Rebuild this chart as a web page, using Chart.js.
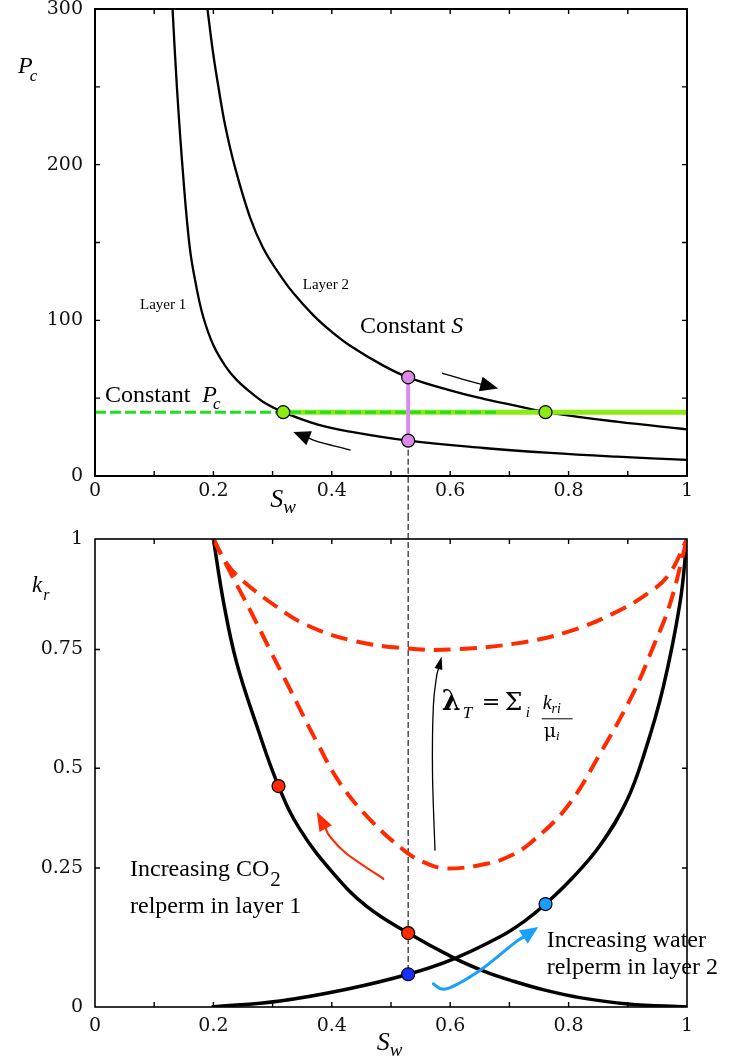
<!DOCTYPE html>
<html>
<head>
<meta charset="utf-8">
<title>Capillary pressure and relative permeability</title>
<script src="https://cdn.jsdelivr.net/npm/chart.js@4.4.1/dist/chart.umd.min.js"></script>
<style>
  html, body { margin: 0; padding: 0; background: #fff; }
  #page { position: relative; width: 736px; height: 1063px; overflow: hidden; }
  canvas { position: absolute; left: 0; }
  #pcChart { top: 0; }
  #krChart { top: 515px; }
</style>
</head>
<body>
<div id="page">
  <canvas id="pcChart" width="736" height="515"></canvas>
  <canvas id="krChart" width="736" height="548"></canvas>
</div>
<script>
// ---------- water saturation axis (shared) ----------
const swTickValues = [0, 0.2, 0.4, 0.6, 0.8, 1];
const swTickLabels = ['0', '0.2', '0.4', '0.6', '0.8', '1'];
const swMinorTicks = [0.1, 0.2, 0.3, 0.4, 0.5, 0.6, 0.7, 0.8, 0.9];

// ---------- capillary pressure panel ----------
const pcTickValues = [0, 100, 200, 300];
const pcTickLabels = ['0', '100', '200', '300'];
const pcMinorTicks = [50, 100, 150, 200, 250];

const layer1Sw = [0.131, 0.138, 0.1475, 0.160, 0.172, 0.183, 0.200, 0.222, 0.240, 0.262, 0.290, 0.318, 0.375, 0.431, 0.529, 0.656, 0.769, 0.881, 1.0];
const layer1Pc = [300, 252, 200, 147, 120, 102, 84, 69.6, 61.4, 54, 46.2, 41, 33.2, 28.5, 22.7, 18, 14.8, 12.4, 10.3];

const layer2Sw = [0.19, 0.199, 0.208, 0.22, 0.236, 0.262, 0.284, 0.31, 0.335, 0.369, 0.4, 0.431, 0.487, 0.529, 0.6, 0.656, 0.712, 0.761, 0.881, 1.0];
const layer2Pc = [300, 273, 251, 225, 199, 166, 146.5, 130.5, 117.5, 103.2, 92.6, 83.7, 70.9, 63.4, 55.0, 49.6, 45.0, 41.1, 34.9, 30];

const constPc = 41;                 // constant capillary pressure level
const constPcSw = [0.318, 0.761];   // where that level meets layer 1 and layer 2
const constPcDashEnd = 0.68;        // end of the dashed guide
const constSw = 0.529;              // constant saturation cut
const constSwPc = [22.7, 63.4];     // layer 1 and layer 2 pressure at that saturation

// ---------- relative permeability panel ----------
const krTickValues = [0, 0.297, 0.51, 0.764, 1];
const krTickLabels = ['0', '0.25', '0.5', '0.75', '1'];

const co2Sw = [0.2, 0.217, 0.239, 0.273, 0.31, 0.346, 0.403, 0.459, 0.529, 0.606, 0.66, 0.707, 0.76, 0.819, 0.9, 1.0];
const co2Kr = [1.0, 0.866, 0.737, 0.602, 0.472, 0.38, 0.285, 0.215, 0.158, 0.105, 0.075, 0.055, 0.036, 0.02, 0.0066, 0.0];

const waterSw = [0.197, 0.3125, 0.425, 0.529, 0.606, 0.684, 0.725, 0.761, 0.806, 0.853, 0.898, 0.93, 0.96, 0.988, 1.0];
const waterKr = [0.0, 0.013, 0.038, 0.07, 0.103, 0.15, 0.183, 0.22, 0.275, 0.345, 0.44, 0.55, 0.684, 0.862, 1.0];

const mobHighSw = [0.2, 0.22, 0.245, 0.307, 0.358, 0.431, 0.527, 0.605, 0.712, 0.797, 0.876, 0.9375, 0.97, 1.0];
const mobHighKr = [1.0, 0.952, 0.916, 0.855, 0.816, 0.784, 0.766, 0.764, 0.777, 0.801, 0.841, 0.887, 0.925, 1.0];

const mobLowSw = [0.2, 0.23, 0.262, 0.296, 0.329, 0.374, 0.414, 0.465, 0.527, 0.56, 0.594, 0.662, 0.7, 0.735, 0.797, 0.853, 0.909, 0.943, 0.971, 1.0];
const mobLowKr = [1.0, 0.925, 0.848, 0.762, 0.68, 0.568, 0.478, 0.40, 0.33, 0.307, 0.296, 0.306, 0.322, 0.35, 0.427, 0.541, 0.67, 0.77, 0.86, 1.0];

const co2DotSw = [0.31, 0.529];
const co2DotKr = [0.472, 0.158];
const waterDotSw = [0.529];
const waterDotKr = [0.07];
const water2DotSw = [0.761];
const water2DotKr = [0.22];

// ---------- helpers ----------
const SERIF = '"Liberation Serif", "Times New Roman", serif';
const NUM = '"DejaVu Serif", serif';
const RED = '#ff2a00';
const pts = (xs, ys) => xs.map((x, i) => ({ x, y: ys[i] }));

function curve(data, color, width, extra) {
  return Object.assign({
    data, borderColor: color, borderWidth: width, pointRadius: 0,
    fill: false, tension: 0.4
  }, extra || {});
}
function segment(data, color, width, extra) {
  return Object.assign({
    data, borderColor: color, borderWidth: width, pointRadius: 0, fill: false, tension: 0
  }, extra || {});
}
function dots(data, fill, order) {
  return {
    data, showLine: false, pointRadius: 6.5, pointHoverRadius: 6.5,
    pointBackgroundColor: fill, pointBorderColor: '#000', pointBorderWidth: 1.2, order
  };
}

function drawRuns(ctx, x, y, runs) {
  let cx = x;
  ctx.textBaseline = 'alphabetic';
  ctx.textAlign = 'left';
  for (const r of runs) {
    ctx.font = r[1];
    cx += (r[3] || 0);
    ctx.fillText(r[0], cx, y + (r[2] || 0));
    cx += ctx.measureText(r[0]).width;
  }
}

function smoothPath(ctx, p) {
  ctx.beginPath();
  ctx.moveTo(p[0][0], p[0][1]);
  for (let i = 0; i < p.length - 1; i++) {
    const p0 = p[i - 1] || p[i], p1 = p[i], p2 = p[i + 1], p3 = p[i + 2] || p2;
    ctx.bezierCurveTo(
      p1[0] + (p2[0] - p0[0]) / 6, p1[1] + (p2[1] - p0[1]) / 6,
      p2[0] - (p3[0] - p1[0]) / 6, p2[1] - (p3[1] - p1[1]) / 6,
      p2[0], p2[1]);
  }
  ctx.stroke();
}

function arrow(ctx, chart, a) {
  const xs = chart.scales.x, ys = chart.scales.y;
  const p = a.path.map(q => [xs.getPixelForValue(q[0]), ys.getPixelForValue(q[1])]);
  const tip = p[p.length - 1], prev = p[p.length - 2];
  const ang = Math.atan2(tip[1] - prev[1], tip[0] - prev[0]);
  const bx = tip[0] - a.head * Math.cos(ang), by = tip[1] - a.head * Math.sin(ang);
  const line = p.slice(0, -1).concat([[bx, by]]);
  ctx.save();
  ctx.strokeStyle = a.color; ctx.fillStyle = a.color;
  ctx.lineWidth = a.width; ctx.lineCap = 'round';
  smoothPath(ctx, line);
  ctx.beginPath();
  ctx.moveTo(tip[0], tip[1]);
  ctx.lineTo(bx + a.half * Math.sin(ang), by - a.half * Math.cos(ang));
  ctx.lineTo(bx - a.half * Math.sin(ang), by + a.half * Math.cos(ang));
  ctx.closePath();
  ctx.fill();
  ctx.restore();
}

// frame and inward tick marks on all four sides
function framePlugin(lineW, yMinor) {
  return {
    id: 'frame',
    afterDraw(chart) {
      const { ctx, chartArea: a, scales: { x, y } } = chart;
      ctx.save();
      ctx.strokeStyle = '#000';
      ctx.lineWidth = 1.4;
      ctx.beginPath();
      for (const v of swMinorTicks) {
        const px = x.getPixelForValue(v);
        ctx.moveTo(px, a.bottom); ctx.lineTo(px, a.bottom - 5);
        ctx.moveTo(px, a.top); ctx.lineTo(px, a.top + 5);
      }
      for (const v of yMinor) {
        const py = y.getPixelForValue(v);
        ctx.moveTo(a.left, py); ctx.lineTo(a.left + 5, py);
        ctx.moveTo(a.right, py); ctx.lineTo(a.right - 5, py);
      }
      ctx.stroke();
      ctx.lineWidth = lineW;
      ctx.strokeRect(a.left, a.top, a.right - a.left, a.bottom - a.top);
      ctx.restore();
    }
  };
}

function axisOptions(yMin, yMax, yVals, yLabels, xHeight, xPad) {
  const tickFont = { family: NUM, size: 19 };
  return {
    x: {
      type: 'linear', min: 0, max: 1,
      grid: { display: false, drawTicks: false }, border: { display: false },
      afterBuildTicks: s => { s.ticks = swTickValues.map(v => ({ value: v })); },
      afterFit: s => { s.height = xHeight; s.paddingLeft = 0; s.paddingRight = 0; },
      ticks: { callback: (v, i) => swTickLabels[i], font: tickFont, color: '#111', padding: xPad, maxRotation: 0, autoSkip: false }
    },
    y: {
      type: 'linear', min: yMin, max: yMax,
      grid: { display: false, drawTicks: false }, border: { display: false },
      afterBuildTicks: s => { s.ticks = yVals.map(v => ({ value: v })); },
      afterFit: s => { s.width = 95; s.paddingTop = 0; s.paddingBottom = 0; },
      ticks: { callback: (v, i) => yLabels[i], font: tickFont, color: '#111', padding: 12, autoSkip: false }
    }
  };
}

const common = {
  responsive: false, animation: false, devicePixelRatio: 1,
  events: [],
  plugins: { legend: { display: false }, tooltip: { enabled: false } }
};

// ---------- capillary pressure chart ----------
const pcArrows = [
  { path: [[0.587, 66.0], [0.625, 61.7], [0.681, 56.2]], color: '#000', width: 1.3, head: 18, half: 7.5 },
  { path: [[0.431, 16.7], [0.375, 22.3], [0.335, 28.3]], color: '#000', width: 1.3, head: 17, half: 7.5 }
];

const pcAnnotations = {
  id: 'pcNotes',
  beforeDatasetsDraw(chart) {
    const { ctx, scales: { x, y } } = chart;
    const px = x.getPixelForValue(constSw);
    ctx.save();
    ctx.strokeStyle = '#222'; ctx.lineWidth = 1.2; ctx.setLineDash([6, 3]);
    ctx.beginPath();
    ctx.moveTo(px, y.getPixelForValue(constSwPc[0]));
    ctx.lineTo(px, chart.height);
    ctx.stroke();
    ctx.restore();
  },
  afterDraw(chart) {
    const { ctx, chartArea: a, scales: { x, y } } = chart;
    pcArrows.forEach(ar => arrow(ctx, chart, ar));
    ctx.save();
    ctx.fillStyle = '#000';
    const at = (sx, py) => [x.getPixelForValue(sx), y.getPixelForValue(py)];
    let p = at(0.076, 107.3);
    drawRuns(ctx, p[0], p[1], [['Layer 1', '15px ' + SERIF]]);
    p = at(0.351, 120.1);
    drawRuns(ctx, p[0], p[1], [['Layer 2', '15px ' + SERIF]]);
    p = at(0.4476, 91.9);
    drawRuns(ctx, p[0], p[1], [['Constant ', '24px ' + SERIF], ['S', 'italic 24px ' + SERIF]]);
    p = at(0.0169, 47.7);
    drawRuns(ctx, p[0], p[1], [['Constant  ', '24px ' + SERIF], ['P', 'italic 24px ' + SERIF], ['c', 'italic 17px ' + SERIF, 7, -4]]);
    // axis titles
    drawRuns(ctx, a.left - 77, a.top + 64, [['P', 'italic 24px ' + SERIF], ['c', 'italic 17px ' + SERIF, 8, -3]]);
    drawRuns(ctx, x.getPixelForValue(0.296), a.bottom + 31, [['S', 'italic 26px ' + SERIF], ['w', 'italic 19px ' + SERIF, 6, 0]]);
    ctx.restore();
  }
};

new Chart(document.getElementById('pcChart'), {
  type: 'line',
  data: {
    datasets: [
      dots(pts(constPcSw, [constPc, constPc]), '#8ceb14', 0),
      dots(pts([constSw, constSw], constSwPc), '#d88be8', 0),
      segment(pts([constSw, constSw], constSwPc), '#d88be8', 4, { order: 2 }),
      segment(pts([0, constPcDashEnd], [constPc, constPc]), '#1ee01e', 3, { borderDash: [11, 4], order: 3 }),
      segment(pts([constPcSw[0], 1], [constPc, constPc]), '#8ceb14', 5, { order: 4 }),
      curve(pts(layer1Sw, layer1Pc), '#000', 2.3, { order: 5 }),
      curve(pts(layer2Sw, layer2Pc), '#000', 2.3, { order: 5 })
    ]
  },
  options: Object.assign({}, common, {
    layout: { padding: { left: 0, top: 9, right: 49, bottom: 0 } },
    scales: axisOptions(0, 300, pcTickValues, pcTickLabels, 39, 4)
  }),
  plugins: [pcAnnotations, framePlugin(2, pcMinorTicks)]
});

// ---------- relative permeability chart ----------
const krArrows = [
  { path: [[0.487, 0.274], [0.4245, 0.328], [0.397, 0.364], [0.3745, 0.417]], color: RED, width: 2.2, head: 19, half: 7 },
  { path: [[0.5743, 0.335], [0.5701, 0.5], [0.5715, 0.642], [0.577, 0.706], [0.5855, 0.749]], color: '#000', width: 1.3, head: 13, half: 4 },
  { path: [[0.5715, 0.0496], [0.594, 0.0389], [0.65, 0.078], [0.7066, 0.135], [0.7487, 0.1707]], color: '#1aa0f5', width: 3, head: 18, half: 8 }
];

const krAnnotations = {
  id: 'krNotes',
  beforeDatasetsDraw(chart) {
    const { ctx, scales: { x, y } } = chart;
    const px = x.getPixelForValue(constSw);
    ctx.save();
    ctx.strokeStyle = '#222'; ctx.lineWidth = 1.2; ctx.setLineDash([6, 3]);
    ctx.beginPath();
    ctx.moveTo(px, 0);
    ctx.lineTo(px, y.getPixelForValue(waterDotKr[0]));
    ctx.stroke();
    ctx.restore();
  },
  afterDraw(chart) {
    const { ctx, chartArea: a, scales: { x, y } } = chart;
    krArrows.forEach(ar => arrow(ctx, chart, ar));
    ctx.save();
    ctx.fillStyle = '#000';
    const at = (sx, ky) => [x.getPixelForValue(sx), y.getPixelForValue(ky)];
    let p = at(0.0591, 0.279);
    drawRuns(ctx, p[0], p[1], [['Increasing CO', '24px ' + SERIF], ['2', '21px ' + SERIF, 10, 1]]);
    p = at(0.0591, 0.2);
    drawRuns(ctx, p[0], p[1], [['relperm in layer 1', '24px ' + SERIF]]);
    p = at(0.763, 0.128);
    drawRuns(ctx, p[0], p[1], [['Increasing water', '24px ' + SERIF]]);
    p = at(0.763, 0.0695);
    drawRuns(ctx, p[0], p[1], [['relperm in layer 2', '24px ' + SERIF]]);

    // total mobility formula
    p = at(0.5856, 0.634);
    const [fx, fy] = p;
    drawRuns(ctx, fx, fy, [['λ', 'bold 27px ' + NUM]]);
    drawRuns(ctx, fx + 21, fy + 8, [['T', 'italic 17px ' + SERIF]]);
    drawRuns(ctx, fx + 40, fy - 1, [['=', '22px ' + NUM]]);
    drawRuns(ctx, fx + 63, fy, [['Σ', '25px ' + NUM]]);
    drawRuns(ctx, fx + 84, fy + 7, [['i', 'italic 15px ' + SERIF]]);
    drawRuns(ctx, fx + 101, fy - 1, [['k', 'italic 20px ' + SERIF], ['ri', 'italic 14px ' + SERIF, 4, 0]]);
    ctx.fillRect(fx + 100, fy + 8, 31, 1);
    drawRuns(ctx, fx + 102, fy + 27, [['μ', '19px ' + NUM], ['i', 'italic 13px ' + SERIF, 3, 0]]);

    // axis titles
    drawRuns(ctx, a.left - 63, a.top + 53, [['k', 'italic 23px ' + SERIF], ['r', 'italic 16px ' + SERIF, 8, 1]]);
    drawRuns(ctx, x.getPixelForValue(0.476), a.bottom + 43, [['S', 'italic 26px ' + SERIF], ['w', 'italic 19px ' + SERIF, 6, 0]]);
    ctx.restore();
  }
};

new Chart(document.getElementById('krChart'), {
  type: 'line',
  data: {
    datasets: [
      dots(pts(co2DotSw, co2DotKr), RED, 0),
      dots(pts(waterDotSw, waterDotKr), '#1530ff', 0),
      dots(pts(water2DotSw, water2DotKr), '#1a9cff', 0),
      curve(pts(mobHighSw, mobHighKr), RED, 4, { borderDash: [17, 9], order: 2 }),
      curve(pts(mobLowSw, mobLowKr), RED, 4, { borderDash: [17, 9], order: 2 }),
      curve(pts(co2Sw, co2Kr), '#000', 3.5, { order: 3 }),
      curve(pts(waterSw, waterKr), '#000', 3.5, { order: 3 })
    ]
  },
  options: Object.assign({}, common, {
    layout: { padding: { left: 0, top: 24, right: 49, bottom: 0 } },
    scales: axisOptions(0, 1, krTickValues, krTickLabels, 56, 8)
  }),
  plugins: [krAnnotations, framePlugin(1.6, krTickValues.slice(1, -1))]
});
</script>
</body>
</html>
